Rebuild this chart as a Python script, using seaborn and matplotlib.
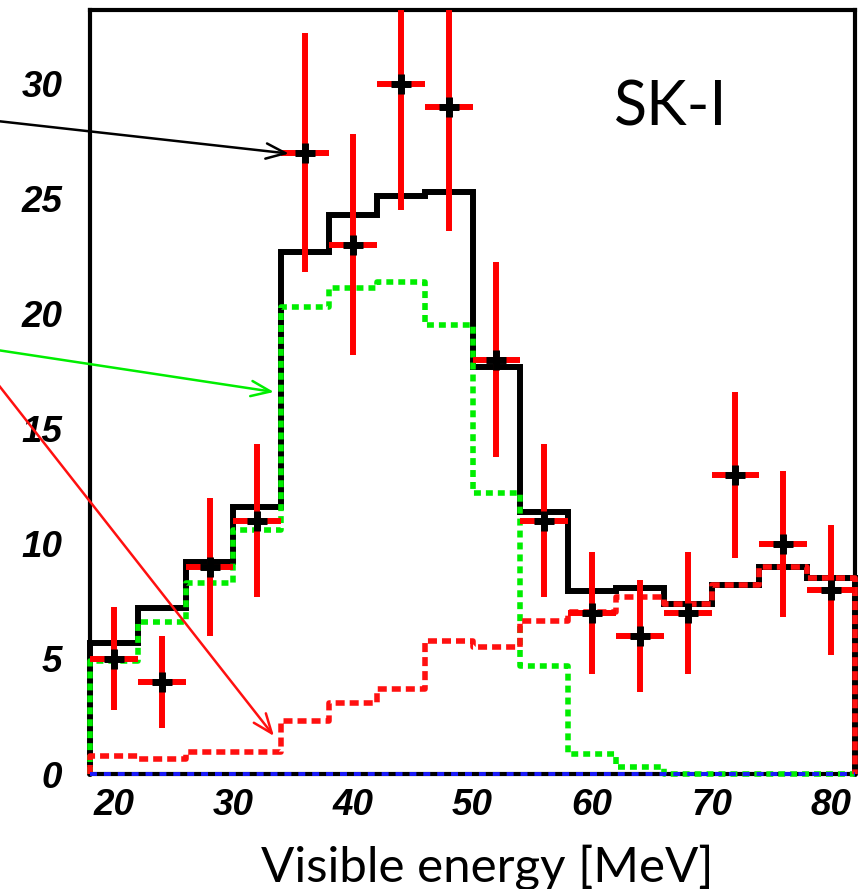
import numpy as np
import pandas as pd
import matplotlib
matplotlib.use("Agg")
import matplotlib.pyplot as plt
import seaborn as sns
from matplotlib.ticker import MultipleLocator, FixedLocator

# ---------------- data ----------------
bin_edges = [18, 22, 26, 30, 34, 38, 42, 46, 50, 54, 58, 62, 66, 70, 74, 78, 82]
bin_centers = [20, 24, 28, 32, 36, 40, 44, 48, 52, 56, 60, 64, 68, 72, 76, 80]
bin_halfwidth = [2] * 16
data_counts = [5, 4, 9, 11, 27, 23, 30, 29, 18, 11, 7, 6, 7, 13, 10, 8]
data_errors = [2.24, 2.0, 3.0, 3.32, 5.2, 4.8, 5.48, 5.39, 4.24, 3.32,
               2.65, 2.45, 2.65, 3.61, 3.16, 2.83]
total_mc = [5.7, 7.2, 9.2, 11.6, 22.7, 24.3, 25.1, 25.3, 17.7, 11.4,
            7.95, 8.1, 7.4, 8.2, 9.0, 8.5]
signal_mc = [4.9, 6.6, 8.3, 10.6, 20.3, 21.1, 21.4, 19.5, 12.2, 4.7,
             0.85, 0.3, 0.0, 0.0, 0.0, 0.0]
background_mc = [0.8, 0.65, 0.95, 0.95, 2.3, 3.1, 3.7, 5.8, 5.5, 6.65,
                 7.05, 7.7, 7.4, 8.2, 9.0, 8.5]
other_mc = [0.0] * 16
x_ticks = [20, 30, 40, 50, 60, 70, 80]
y_ticks = [0, 5, 10, 15, 20, 25, 30]
x_label = "Visible energy [MeV]"
panel_label = "SK-I"

# ---------------- style ----------------
sns.set_style("white")
plt.rcParams["lines.scale_dashes"] = False
plt.rcParams["font.family"] = ["Liberation Sans", "DejaVu Sans"]
plt.rcParams["text.color"] = "black"
plt.rcParams["axes.labelcolor"] = "black"
plt.rcParams["xtick.color"] = "black"
plt.rcParams["ytick.color"] = "black"

fig = plt.figure(figsize=(8.66, 8.89), dpi=100)
ax = fig.add_axes([90 / 866, 115 / 889, 765 / 866, 764 / 889])


def stairs_frame(values):
    xs = [bin_edges[0]] + list(bin_edges) + [bin_edges[-1]]
    ys = [0.0] + list(values) + [values[-1], 0.0]
    return pd.DataFrame({"x": xs, "y": ys})


common = dict(x="x", y="y", sort=False, estimator=None, drawstyle="steps-post",
              ax=ax, legend=False, clip_on=False)

sns.lineplot(data=stairs_frame(total_mc), color="black", lw=4.3,
             solid_joinstyle="miter", zorder=2.6, **common)
sns.lineplot(data=stairs_frame(signal_mc), color="#00ee00", lw=4.0,
             linestyle=(0, (5.0, 3.6)), zorder=3, **common)
sns.lineplot(data=stairs_frame(background_mc), color="#ff1010", lw=4.0,
             linestyle=(0, (6.5, 3.6)), zorder=3.5, **common)
sns.lineplot(data=stairs_frame(other_mc), color="#1a1aff", lw=2.8,
             linestyle=(0, (5.0, 5.0)), zorder=3.8, **common)

# data points with error bars
ax.errorbar(bin_centers, data_counts, xerr=bin_halfwidth, yerr=data_errors,
            fmt="none", ecolor="#ff0000", elinewidth=4.3, capsize=0, zorder=4)
sns.scatterplot(x=bin_centers, y=data_counts, marker="+", s=200, color="black",
                linewidth=5, zorder=5, ax=ax, legend=False)

# axes
ax.set_xlim(18, 82)
ax.set_ylim(0, 33.2)
ax.xaxis.set_major_locator(FixedLocator(x_ticks))
ax.xaxis.set_minor_locator(MultipleLocator(2))
ax.yaxis.set_major_locator(FixedLocator(y_ticks))
ax.yaxis.set_minor_locator(MultipleLocator(1))
ax.tick_params(which="both", direction="in", top=False, right=False,
               color="#333333", width=1.2, labelcolor="black")
ax.tick_params(which="major", length=14.4)
ax.tick_params(which="minor", length=7.2)
ax.tick_params(axis="x", which="major", pad=10)
ax.tick_params(axis="y", which="major", pad=20)
for lab in ax.get_xticklabels() + ax.get_yticklabels():
    lab.set_fontsize(26.5)
    lab.set_fontstyle("italic")
    lab.set_fontweight("bold")
    lab.set_family(["Liberation Sans", "DejaVu Sans"])

for sp in ax.spines.values():
    sp.set_visible(True)
    sp.set_linewidth(3.0)
    sp.set_color("black")

ax.set_xlabel(x_label, fontsize=35.5, family=["Lato", "DejaVu Sans"], color="black")
ax.xaxis.set_label_coords(0.519, -0.141)
ax.xaxis.label.set_va("baseline")
ax.set_ylabel("")

ax.text(61.8, 28.2, panel_label, fontsize=44, family=["Lato", "DejaVu Sans"],
        ha="left", va="baseline", color="black", zorder=6)

# arrows pointing from outside the frame
ax.annotate("", xy=(34.64, 26.96), xycoords="data",
            xytext=(-3, 889 - 121), textcoords="figure pixels",
            arrowprops=dict(arrowstyle="->,head_length=1.4,head_width=0.55",
                            color="black", lw=1.8, shrinkA=0, shrinkB=0),
            annotation_clip=False, zorder=7)
ax.annotate("", xy=(33.39, 16.6), xycoords="data",
            xytext=(-3, 889 - 350), textcoords="figure pixels",
            arrowprops=dict(arrowstyle="->,head_length=1.4,head_width=0.55",
                            color="#00ee00", lw=1.8, shrinkA=0, shrinkB=0),
            annotation_clip=False, zorder=7)
ax.annotate("", xy=(33.39, 1.65), xycoords="data",
            xytext=(-3, 889 - 383), textcoords="figure pixels",
            arrowprops=dict(arrowstyle="->,head_length=1.4,head_width=0.55",
                            color="#ff1010", lw=1.8, shrinkA=0, shrinkB=0),
            annotation_clip=False, zorder=7)

fig.savefig("out.png", dpi=100, facecolor="white")
